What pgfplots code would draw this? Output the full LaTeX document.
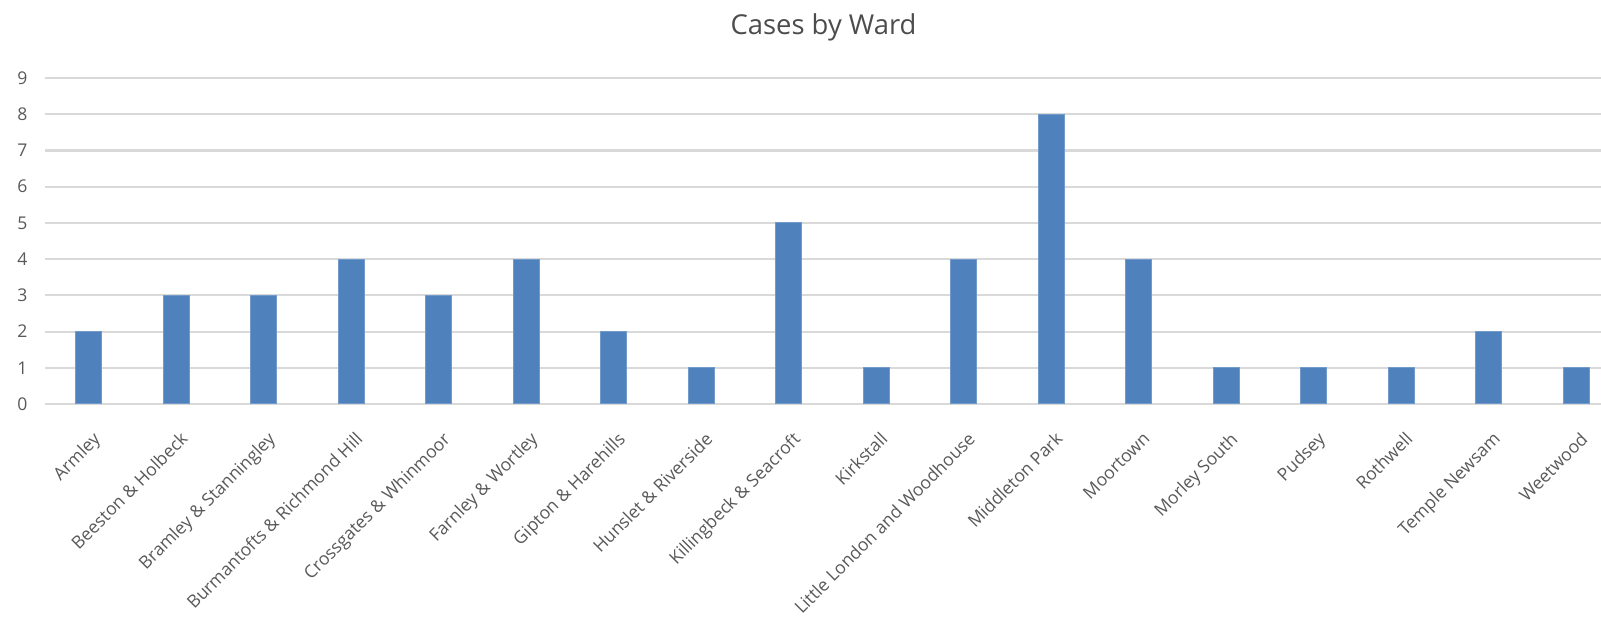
\documentclass[border=0pt]{standalone}
\usepackage{pgfplots}
\pgfplotsset{compat=1.18}
\usepackage{fontspec}
\setmainfont{Open Sans}
\definecolor{barblue}{HTML}{4F81BD}
\definecolor{gridgray}{HTML}{D9D9D9}
\definecolor{textgray}{HTML}{595959}

\begin{document}
\begin{tikzpicture}
% picture is 16.01cm x 6.32cm (1px = 0.01cm); plot runs past the right edge
\useasboundingbox (0,0) rectangle (16.01cm,6.32cm);
\clip (0,0) rectangle (16.01cm,6.32cm);
\begin{axis}[
  at={(0.45cm,2.28cm)}, anchor=south west,
  scale only axis, width=15.75cm, height=3.26cm,
  xmin=-0.5, xmax=17.5, ymin=0, ymax=9,
  ytick={0,...,9},
  xtick=data,
  xticklabels={Armley, Beeston \& Holbeck, Bramley \& Stanningley,
    Burmantofts \& Richmond Hill, Crossgates \& Whinmoor, Farnley \& Wortley,
    Gipton \& Harehills, Hunslet \& Riverside, Killingbeck \& Seacroft,
    Kirkstall, Little London and Woodhouse, Middleton Park, Moortown,
    Morley South, Pudsey, Rothwell, Temple Newsam, Weetwood},
  axis line style={draw=none},
  major tick length=0pt,
  ymajorgrids, grid style={gridgray, line width=0.6pt},
  /pgf/number format/assume math mode=true,
  tick label style={font=\fontsize{5.0}{6}\selectfont, text=textgray},
  xticklabel style={xshift=0.03cm, yshift=-0.26cm, rotate=45, anchor=north east, inner sep=0pt},
  yticklabel style={inner sep=0pt, xshift=-0.17cm},
  title={Cases by Ward},
  title style={font=\fontsize{7.8}{10}\selectfont, text=textgray!85!black, at={(0.5,1)}, anchor=center, xshift=-0.09cm, yshift=0.30cm},
]
\addplot[ybar, bar width=0.26cm, fill=barblue, draw=barblue!80!white, line width=0.3pt]
  coordinates {(0,2) (1,3) (2,3) (3,4) (4,3) (5,4) (6,2) (7,1) (8,5)
    (9,1) (10,4) (11,8) (12,4) (13,1) (14,1) (15,1) (16,2) (17,1)};
\end{axis}
\end{tikzpicture}
\end{document}
